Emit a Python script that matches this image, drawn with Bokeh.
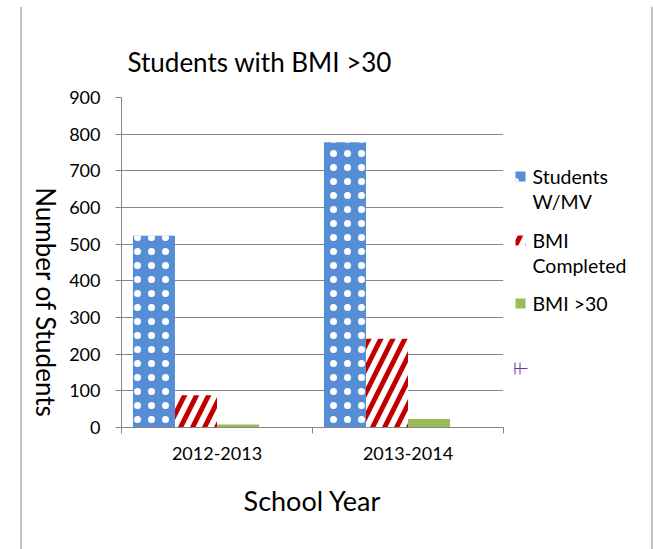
import math
from bokeh.plotting import figure
from bokeh.layouts import row, column
from bokeh.models import Range1d, FixedTicker, ColumnDataSource
from bokeh.transform import dodge
from bokeh.core.properties import value
from bokeh.embed import file_html
from bokeh.resources import INLINE

# ---- data ----
years = ["2012-2013", "2013-2014"]
students_wmv = [523, 778]
bmi_completed = [88, 242]
bmi_over_30 = [8, 23]
series_labels = [["Students", "W/MV"], ["BMI", "Completed"], ["BMI >30"]]
y_ticks = [0, 100, 200, 300, 400, 500, 600, 700, 800, 900]
title_text = "Students with BMI >30"
x_title = "School Year"
y_title = "Number of Students"

# ---- style ----
FONT = "Lato"
GRID = "#868686"
BLUE = "#558ED5"
RED = "#C00000"
GREEN = "#9BBB59"
PURPLE = "#7030A0"

blue_style = dict(fill_color=BLUE, hatch_pattern="dot", hatch_color="white",
                  hatch_scale=14, hatch_weight=1)
red_style = dict(fill_color="white", hatch_pattern="right_diagonal_line", hatch_color=RED,
                 hatch_scale=24, hatch_weight=5)
green_style = dict(fill_color=GREEN)

PAGE_W, PAGE_H = 653, 549
TOP = 6                      # height of the strip holding the top border line
ROW_H = PAGE_H - TOP
LEFT_W = 60
LEG_X = 508
MAIN_W = LEG_X - LEFT_W
LEG_W = PAGE_W - LEG_X


def no_align(f):
    if "frame_align" in f.properties():
        f.frame_align = False
    return f


def blank(w, h):
    f = figure(width=w, height=h, output_backend="svg", toolbar_location=None,
               x_range=Range1d(0, w), y_range=Range1d(h, 0),
               x_axis_type=None, y_axis_type=None,
               min_border=0, background_fill_color="white", border_fill_color="white")
    f.outline_line_color = None
    f.grid.visible = False
    return no_align(f)


# ---- top strip: chart border ----
top = blank(PAGE_W, TOP)
top.segment(x0=[20.5, 20.5, 651.5], y0=[3.5, 3.5, 3.5], x1=[651.5, 20.5, 651.5], y1=[3.5, TOP, TOP],
            line_color=GRID, line_width=1)

# ---- left strip: border + y title ----
left = blank(LEFT_W, ROW_H)
left.segment(x0=[20.5], y0=[0], x1=[20.5], y1=[ROW_H], line_color=GRID, line_width=1)
left.text(x=[45], y=[302 - TOP], text=[y_title], angle=-math.pi / 2,
          text_font=value(FONT), text_font_size="26px", text_align="center",
          text_baseline="middle", text_color="black")

# ---- main chart ----
FL, FT, FW, FH = 121 - LEFT_W, 97 - TOP, 382, 330
p = figure(width=MAIN_W, height=ROW_H, output_backend="svg", toolbar_location=None,
           x_range=Range1d(0, len(years)), y_range=Range1d(0, y_ticks[-1]),
           min_border_left=FL, min_border_top=FT,
           min_border_right=MAIN_W - FL - FW, min_border_bottom=ROW_H - FT - FH,
           background_fill_color="white", border_fill_color="white")
no_align(p)
p.outline_line_color = None
p.xgrid.grid_line_color = None
p.ygrid.grid_line_color = GRID
p.ygrid.ticker = FixedTicker(ticks=y_ticks)

p.title.text = title_text
p.title.text_font = FONT
p.title.text_font_size = "26px"
p.title.text_font_style = "normal"
p.title.text_color = "black"
p.title.align = "left"
p.title.offset = 6
p.title.standoff = 40

centers = [i + 0.5 for i in range(len(years))]
src = ColumnDataSource(dict(x=centers, wmv=students_wmv, comp=bmi_completed, over=bmi_over_30))
slot = 0.22
p.vbar(x=dodge("x", -1.5 * slot, range=p.x_range), top="wmv", width=slot, source=src,
       line_color=None, **blue_style)
p.vbar(x=dodge("x", -0.5 * slot, range=p.x_range), top="comp", width=slot, source=src,
       line_color=None, **red_style)
p.vbar(x=dodge("x", 0.5 * slot, range=p.x_range), top="over", width=slot, source=src,
       line_color=None, **green_style)

p.yaxis.ticker = FixedTicker(ticks=y_ticks)
p.yaxis.axis_line_color = GRID
p.yaxis.major_tick_line_color = GRID
p.yaxis.major_tick_out = 6
p.yaxis.major_tick_in = 0
p.yaxis.minor_tick_line_color = None
p.yaxis.major_label_standoff = 15
p.yaxis.major_label_text_font = FONT
p.yaxis.major_label_text_font_size = "18px"
p.yaxis.major_label_text_color = "black"

p.xaxis.ticker = FixedTicker(ticks=centers, minor_ticks=list(range(len(years) + 1)))
p.xaxis.major_label_overrides = {c: y for c, y in zip(centers, years)}
p.xaxis.axis_line_color = GRID
p.xaxis.major_tick_line_color = None
p.xaxis.major_tick_out = 0
p.xaxis.major_tick_in = 0
p.xaxis.minor_tick_line_color = GRID
p.xaxis.minor_tick_out = 6
p.xaxis.minor_tick_in = 0
p.xaxis.major_label_standoff = 13
p.xaxis.major_label_text_font = FONT
p.xaxis.major_label_text_font_size = "18px"
p.xaxis.major_label_text_color = "black"
p.xaxis.axis_label = x_title
p.xaxis.axis_label_text_font = FONT
p.xaxis.axis_label_text_font_size = "27px"
p.xaxis.axis_label_text_font_style = "normal"
p.xaxis.axis_label_text_color = "black"
p.xaxis.axis_label_standoff = 21

# ---- legend strip ----
leg = blank(LEG_W, ROW_H)
row_y = [176 - TOP, 240 - TOP, 303 - TOP]
styles = [blue_style, red_style, green_style]
for y, st in zip(row_y, styles):
    leg.quad(left=[7], right=[17], top=[y - 5], bottom=[y + 5], line_color=None, **st)
lx, ly, lt = [], [], []
for y, lines in zip(row_y, series_labels):
    for k, t in enumerate(lines):
        lx.append(24)
        ly.append(y + 25 * k)
        lt.append(t)
leg.text(x=lx, y=ly, text=lt, text_font=value(FONT), text_font_size="19.5px",
         text_align="left", text_baseline="middle", text_color="black")
# small purple legend remnant (empty fourth series)
leg.segment(x0=[6.5, 11.5, 6], y0=[356, 356, 362], x1=[6.5, 11.5, 19], y1=[368, 368, 362],
            line_color=PURPLE, line_width=1)
# right border of the chart box
leg.segment(x0=[143.5], y0=[0], x1=[143.5], y1=[ROW_H], line_color=GRID, line_width=1)

layout = column(top, row(left, p, leg))
open("out.html", "w").write(file_html(layout, INLINE))
